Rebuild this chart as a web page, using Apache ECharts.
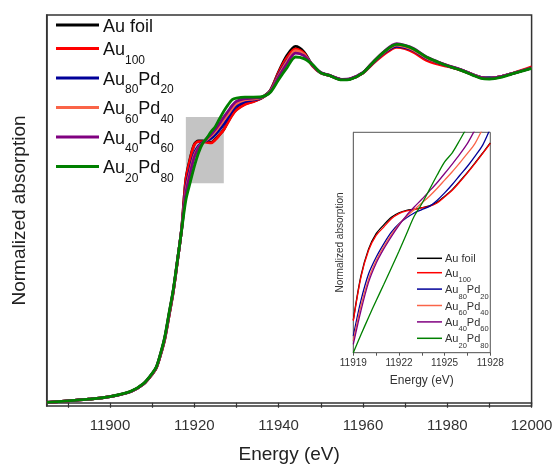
<!DOCTYPE html>
<html>
<head>
<meta charset="utf-8">
<script src="https://cdn.jsdelivr.net/npm/echarts@6/dist/echarts.min.js"></script>
<style>
  html, body { margin: 0; padding: 0; background: #fff; }
  #chart { width: 553px; height: 464px; }
</style>
</head>
<body>
<div id="chart"></div>
<script>
// sample names and colours
const names = ['Au foil', 'Au100', 'Au80Pd20', 'Au60Pd40', 'Au40Pd60', 'Au20Pd80'];
const colors = ['#000000', '#ff0000', '#000099', '#fa6448', '#800080', '#008000'];

// main spectrum, energy in eV
const energy = [11885, 11890, 11895, 11900, 11905, 11908, 11910, 11911, 11912, 11913, 11914, 11915, 11916,
  11917, 11918, 11919, 11920, 11921, 11922, 11923, 11924, 11925, 11926, 11927, 11928, 11929, 11930,
  11932, 11934, 11936, 11938, 11940, 11942, 11944, 11946, 11948,
  11950, 11952, 11955, 11957, 11960, 11962, 11965, 11968, 11970, 11972, 11975, 11978, 11980, 11983,
  11986, 11988, 11990, 11993, 11996, 12000];

const auFoil = [0.001, 0.006, 0.011, 0.019, 0.035, 0.058, 0.088, 0.108, 0.148, 0.197, 0.268, 0.342, 0.437,
  0.540, 0.692, 0.755, 0.800, 0.810, 0.810, 0.808, 0.806, 0.816, 0.830, 0.846, 0.870, 0.892, 0.908,
  0.925, 0.933, 0.944, 0.966, 1.024, 1.075, 1.103, 1.086, 1.045,
  1.021, 1.013, 1.000, 1.002, 1.021, 1.047, 1.083, 1.104, 1.100, 1.091, 1.067, 1.052, 1.043, 1.031,
  1.016, 1.007, 1.005, 1.010, 1.021, 1.036];
const au100 = [0.001, 0.006, 0.011, 0.019, 0.035, 0.058, 0.088, 0.108, 0.148, 0.197, 0.268, 0.342, 0.437,
  0.538, 0.689, 0.752, 0.798, 0.808, 0.808, 0.806, 0.804, 0.814, 0.829, 0.845, 0.868, 0.890, 0.906,
  0.923, 0.932, 0.943, 0.965, 1.022, 1.068, 1.095, 1.082, 1.043,
  1.021, 1.013, 1.000, 1.002, 1.020, 1.045, 1.078, 1.100, 1.096, 1.085, 1.060, 1.047, 1.041, 1.030,
  1.015, 1.006, 1.003, 1.010, 1.022, 1.040];
const au80pd20 = [0.001, 0.006, 0.011, 0.019, 0.035, 0.059, 0.089, 0.109, 0.150, 0.200, 0.272, 0.345, 0.439,
  0.537, 0.665, 0.725, 0.772, 0.795, 0.806, 0.812, 0.818, 0.830, 0.845, 0.862, 0.882, 0.903, 0.918,
  0.932, 0.937, 0.944, 0.964, 1.015, 1.058, 1.087, 1.077, 1.045,
  1.021, 1.013, 1.000, 1.002, 1.021, 1.047, 1.083, 1.103, 1.099, 1.090, 1.066, 1.052, 1.043, 1.031,
  1.016, 1.007, 1.005, 1.010, 1.021, 1.036];
const au60pd40 = [0.001, 0.006, 0.011, 0.019, 0.035, 0.059, 0.089, 0.109, 0.150, 0.200, 0.272, 0.345, 0.439,
  0.536, 0.655, 0.715, 0.765, 0.790, 0.804, 0.815, 0.826, 0.840, 0.857, 0.875, 0.893, 0.912, 0.926,
  0.937, 0.940, 0.945, 0.963, 1.012, 1.056, 1.090, 1.078, 1.045,
  1.021, 1.013, 1.000, 1.002, 1.021, 1.048, 1.085, 1.107, 1.102, 1.092, 1.068, 1.053, 1.044, 1.031,
  1.016, 1.006, 1.004, 1.010, 1.021, 1.036];
const au40pd60 = [0.001, 0.006, 0.011, 0.019, 0.035, 0.059, 0.090, 0.110, 0.151, 0.202, 0.274, 0.347, 0.440,
  0.535, 0.648, 0.708, 0.760, 0.788, 0.804, 0.818, 0.831, 0.846, 0.864, 0.884, 0.902, 0.920, 0.933,
  0.941, 0.943, 0.946, 0.962, 1.008, 1.050, 1.082, 1.074, 1.046,
  1.022, 1.014, 1.001, 1.003, 1.022, 1.049, 1.087, 1.111, 1.106, 1.096, 1.071, 1.054, 1.044, 1.032,
  1.016, 1.006, 1.004, 1.010, 1.021, 1.036];
const au20pd80 = [0.001, 0.006, 0.011, 0.019, 0.036, 0.060, 0.091, 0.111, 0.153, 0.204, 0.277, 0.349, 0.441,
  0.534, 0.627, 0.680, 0.731, 0.773, 0.803, 0.820, 0.839, 0.855, 0.879, 0.902, 0.922, 0.938, 0.943,
  0.946, 0.946, 0.947, 0.960, 1.000, 1.037, 1.070, 1.065, 1.047,
  1.021, 1.013, 0.999, 1.001, 1.021, 1.048, 1.086, 1.109, 1.105, 1.095, 1.070, 1.053, 1.043, 1.030,
  1.014, 1.004, 1.002, 1.008, 1.020, 1.035];

// inset, zoomed on the white line region
const insetEnergy = [11919, 11919.5, 11920, 11920.5, 11921, 11921.5, 11922, 11922.5, 11923, 11923.5,
  11924, 11924.5, 11925, 11925.5, 11926, 11926.5, 11927, 11927.5, 11928];
const insetAuFoil = [0.148, 0.348, 0.470, 0.540, 0.580, 0.615, 0.635, 0.646, 0.651, 0.658,
  0.666, 0.682, 0.710, 0.740, 0.778, 0.818, 0.861, 0.906, 0.952];
const insetAu100 = [0.144, 0.342, 0.464, 0.532, 0.570, 0.608, 0.631, 0.643, 0.649, 0.657,
  0.664, 0.679, 0.707, 0.737, 0.775, 0.816, 0.859, 0.904, 0.950];
const insetAu80Pd20 = [0.076, 0.236, 0.357, 0.433, 0.494, 0.547, 0.585, 0.612, 0.634, 0.649,
  0.664, 0.691, 0.725, 0.763, 0.805, 0.846, 0.892, 0.942, 1.018];
const insetAu60Pd40 = [0.053, 0.213, 0.334, 0.418, 0.482, 0.536, 0.582, 0.619, 0.649, 0.679,
  0.710, 0.745, 0.783, 0.821, 0.862, 0.904, 0.950, 1.014, 1.060];
const insetAu40Pd60 = [0.038, 0.190, 0.319, 0.406, 0.471, 0.527, 0.578, 0.623, 0.661, 0.696,
  0.733, 0.771, 0.813, 0.856, 0.901, 0.950, 1.011, 1.060, 1.100];
const insetAu20Pd80 = [0.000, 0.081, 0.160, 0.236, 0.309, 0.384, 0.460, 0.540, 0.619, 0.676,
  0.740, 0.805, 0.866, 0.907, 0.965, 1.026, 1.080, 1.120, 1.160];

// axis ticks
const xTicks = [11890, 11900, 11910, 11920, 11930, 11940, 11950, 11960, 11970, 11980, 11990, 12000];
const xLabels = [11900, 11920, 11940, 11960, 11980, 12000];
const insetLabels = [11919, 11922, 11925, 11928];

// zoom box drawn on the main plot
const zoomBox = { x: [11918, 11927], y: [0.679, 0.884] };

const mainData = [auFoil, au100, au80pd20, au60pd40, au40pd60, au20pd80];
const insetData = [insetAuFoil, insetAu100, insetAu80Pd20, insetAu60Pd40, insetAu40Pd60, insetAu20Pd80];

const font = 'Liberation Sans, Arial, sans-serif';

function pairs(xs, ys) {
  return xs.map(function (x, i) { return [x, ys[i]]; });
}

// 'Au80Pd20' -> '{b|Au}{s|80}{b|Pd}{s|20}'
function richName(n, b, s) {
  if (!/\d/.test(n)) return '{' + b + '|' + n + '}';
  return n.replace(/([A-Z][a-z]*)(\d+)/g, '{' + b + '|$1}{' + s + '|$2}');
}

let series = [];
names.forEach(function (n, i) {
  let s = {
    name: n,
    type: 'line',
    xAxisIndex: 0,
    yAxisIndex: 0,
    data: pairs(energy, mainData[i]),
    smooth: 0.3,
    showSymbol: false,
    lineStyle: { color: colors[i], width: 2.8 },
    itemStyle: { color: colors[i] },
    z: 3 + i
  };
  if (i === 0) {
    s.markArea = {
      silent: true,
      itemStyle: { color: '#c4c4c4' },
      data: [[{ xAxis: zoomBox.x[0], yAxis: zoomBox.y[0] }, { xAxis: zoomBox.x[1], yAxis: zoomBox.y[1] }]]
    };
  }
  series.push(s);
});
names.forEach(function (n, i) {
  series.push({
    name: n + ' inset',
    type: 'line',
    xAxisIndex: 1,
    yAxisIndex: 1,
    data: pairs(insetEnergy, insetData[i]),
    smooth: 0.3,
    showSymbol: false,
    lineStyle: { color: colors[i], width: 1.3 },
    itemStyle: { color: colors[i] },
    z: 20 + i
  });
});

// legends drawn as graphic so the subscripts sit right
let graphic = [];
names.forEach(function (n, i) {
  let y = i === 0 ? 25 : 48.5 + (i - 1) * 29.5;
  graphic.push({
    type: 'line', z: 50,
    shape: { x1: 56, y1: y, x2: 99, y2: y },
    style: { stroke: colors[i], lineWidth: 3 }
  });
  graphic.push({
    type: 'text', z: 50,
    style: {
      x: 103, y: y - 7, text: richName(n, 'b', 's'), verticalAlign: 'top', fill: '#111',
      rich: {
        b: { fontSize: 18, lineHeight: 20, fontFamily: font, verticalAlign: 'top', fill: '#111' },
        s: { fontSize: 12, lineHeight: 12, fontFamily: font, verticalAlign: 'top', padding: [13, 0, 0, 0], fill: '#111' }
      }
    }
  });
  let yi = i === 0 ? 258.3 : 272.7 + (i - 1) * 16.4;
  graphic.push({
    type: 'line', z: 50,
    shape: { x1: 417, y1: yi, x2: 442, y2: yi },
    style: { stroke: colors[i], lineWidth: 1.5 }
  });
  graphic.push({
    type: 'text', z: 50,
    style: {
      x: 445, y: yi - 4.5, text: richName(n, 'bi', 'si'), verticalAlign: 'top', fill: '#333',
      rich: {
        bi: { fontSize: 11, lineHeight: 12, fontFamily: font, verticalAlign: 'top', fill: '#333' },
        si: { fontSize: 7.5, lineHeight: 8, fontFamily: font, verticalAlign: 'top', padding: [8, 0, 0, 0], fill: '#333' }
      }
    }
  });
});

function plain(v) { return String(v); }

let option = {
  animation: false,
  backgroundColor: '#fff',
  grid: [
    { left: 46.7, right: 21.4, top: 15, bottom: 58, outerBoundsMode: 'none', containLabel: false,
      show: true, borderColor: '#333', borderWidth: 1.5, backgroundColor: 'transparent', z: 1 },
    { left: 353.3, top: 132.3, width: 137, height: 220.4, outerBoundsMode: 'none', containLabel: false,
      show: true, borderColor: '#555', borderWidth: 1, backgroundColor: '#fff', z: 10 }
  ],
  xAxis: [
    {
      gridIndex: 0, type: 'value', min: 11885, max: 12000,
      name: 'Energy (eV)', nameLocation: 'middle', nameGap: 39,
      nameTextStyle: { fontSize: 19, color: '#222', fontFamily: font },
      axisLine: { show: true, lineStyle: { color: '#333', width: 1.5 } },
      axisTick: { show: true, inside: false, length: 5, customValues: xTicks, lineStyle: { color: '#333', width: 1.2 } },
      axisLabel: { show: true, margin: 12, fontSize: 15, color: '#333', fontFamily: font, customValues: xLabels, formatter: plain },
      splitLine: { show: false }
    },
    {
      gridIndex: 1, type: 'value', min: 11919, max: 11928, interval: 1.5,
      name: 'Energy (eV)', nameLocation: 'middle', nameGap: 22,
      nameTextStyle: { fontSize: 12, color: '#333', fontFamily: font },
      axisLine: { show: true, lineStyle: { color: '#555', width: 1 } },
      axisTick: { show: true, inside: false, length: 3, lineStyle: { color: '#555' } },
      axisLabel: { show: true, margin: 6, fontSize: 10, color: '#333', fontFamily: font, customValues: insetLabels, formatter: plain },
      splitLine: { show: false }
    }
  ],
  yAxis: [
    {
      gridIndex: 0, type: 'value', min: -0.01, max: 1.2,
      name: 'Normalized absorption', nameLocation: 'middle', nameGap: 17,
      nameTextStyle: { fontSize: 19, color: '#222', fontFamily: font },
      axisLine: { show: true, lineStyle: { color: '#333', width: 1.5 } },
      axisTick: { show: false }, axisLabel: { show: false }, splitLine: { show: false }
    },
    {
      gridIndex: 1, type: 'value', min: 0, max: 1,
      name: 'Normalized absorption', nameLocation: 'middle', nameGap: 8,
      nameTextStyle: { fontSize: 10, color: '#333', fontFamily: font },
      axisLine: { show: true, lineStyle: { color: '#555', width: 1 } },
      axisTick: { show: false }, axisLabel: { show: false }, splitLine: { show: false }
    }
  ],
  series: series,
  graphic: graphic
};

let myChart = echarts.init(document.getElementById('chart'), null, { renderer: 'canvas' });
myChart.setOption(option);
</script>
</body>
</html>
